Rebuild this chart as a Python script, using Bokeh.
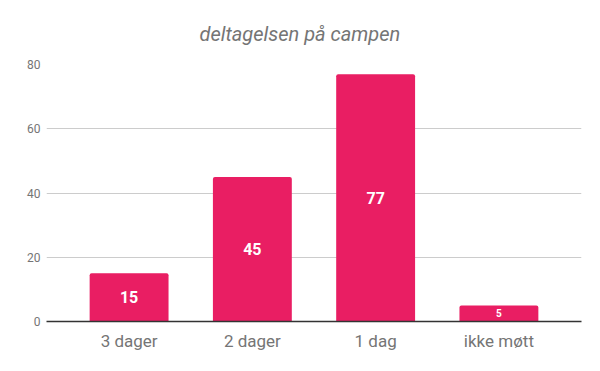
from bokeh.plotting import figure
from bokeh.models import ColumnDataSource, FactorRange
from bokeh.core.properties import value
from bokeh.embed import file_html
from bokeh.resources import INLINE

categories = ["3 dager", "2 dager", "1 dag", "ikke møtt"]
counts = [15, 45, 77, 5]
y_ticks = [0, 20, 40, 60, 80]
title_text = "deltagelsen på campen"

src = ColumnDataSource(dict(
    cat=categories,
    val=counts,
    mid=[v / 2 for v in counts],
    lab=[str(v) for v in counts],
    fs=["10px" if v < 10 else "16px" for v in counts],
))

p = figure(width=584, height=355, output_backend="svg", toolbar_location=None,
           x_range=FactorRange(*categories, range_padding=0.085),
           y_range=(0, 80), min_border_left=46, min_border_right=3,
           min_border_top=63, min_border_bottom=34)
p.outline_line_color = None
p.background_fill_color = "white"
p.border_fill_color = "white"

p.title.text = title_text
p.title.align = "left"
p.title.offset = 153
p.title.text_font = "Roboto"
p.title.text_font_style = "italic"
p.title.text_font_size = "20px"
p.title.text_color = "#757575"
p.title.standoff = 38

p.vbar(x="cat", top="val", width=0.64, source=src, fill_color="#E91E63",
       line_color=None, border_radius=(2, 2, 0, 0))
p.text(x="cat", y="mid", text="lab", source=src, text_color="white",
       text_font=value("Roboto"), text_font_style="bold", text_font_size="fs",
       text_align="center", text_baseline="middle")

p.xgrid.grid_line_color = None
p.ygrid.grid_line_color = "#cccccc"
p.ygrid.grid_line_width = 1

p.yaxis.ticker = y_ticks
p.yaxis.axis_line_color = None
p.yaxis.major_tick_line_color = None
p.yaxis.minor_tick_line_color = None
p.yaxis.major_tick_out = 0
p.yaxis.minor_tick_out = 0
p.yaxis.major_label_standoff = 6
p.yaxis.major_label_text_font = "Roboto"
p.yaxis.major_label_text_font_size = "12px"
p.yaxis.major_label_text_color = "#757575"

p.xaxis.axis_line_color = "#333333"
p.xaxis.axis_line_width = 1.5
p.xaxis.major_tick_line_color = None
p.xaxis.minor_tick_line_color = None
p.xaxis.major_tick_out = 0
p.xaxis.minor_tick_out = 0
p.xaxis.major_label_standoff = 9
p.xaxis.major_label_text_font = "Roboto"
p.xaxis.major_label_text_font_size = "17px"
p.xaxis.major_label_text_color = "#757575"

open("out.html", "w").write(file_html(p, INLINE))
